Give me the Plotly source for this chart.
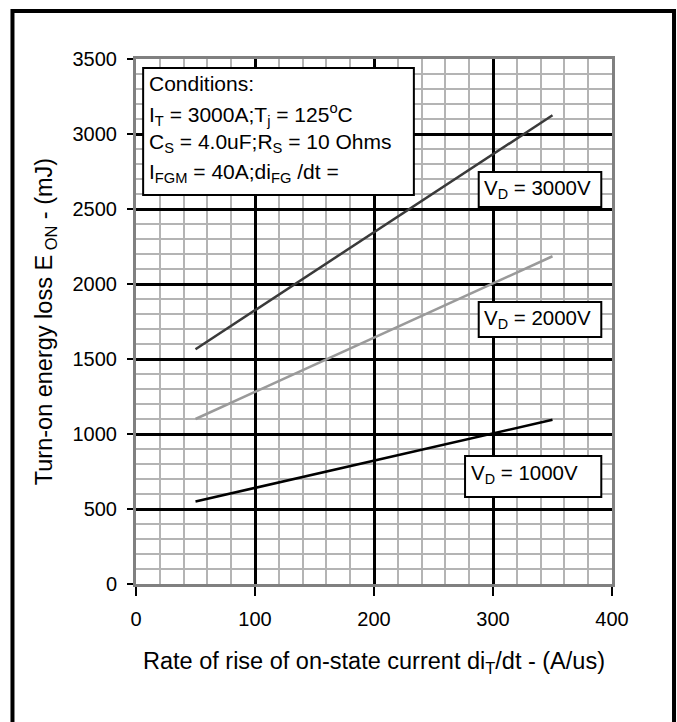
import plotly.graph_objects as go

# ---- data ----
rate = [50, 350]                      # di_T/dt (A/us)
eon_3000 = [1565, 3125]               # V_D = 3000V (mJ)
eon_2000 = [1100, 2185]               # V_D = 2000V (mJ)
eon_1000 = [550, 1095]                # V_D = 1000V (mJ)

series_names = ["V<sub>D</sub> = 3000V", "V<sub>D</sub> = 2000V", "V<sub>D</sub> = 1000V"]
series_colors = ["#3a3a3a", "#9a9a9a", "#000000"]

x_ticks = [0, 100, 200, 300, 400]
y_ticks = [0, 500, 1000, 1500, 2000, 2500, 3000, 3500]

conditions = [
    "Conditions:",
    "I<sub>T</sub> = 3000A;T<sub>j</sub> = 125<sup>o</sup>C",
    "C<sub>S</sub> = 4.0uF;R<sub>S</sub> = 10 Ohms",
    "I<sub>FGM</sub> = 40A;di<sub>FG</sub> /dt =",
]

FONT = "Liberation Sans, Arial, sans-serif"

fig = go.Figure()
for ys, name, col in zip([eon_3000, eon_2000, eon_1000], series_names, series_colors):
    fig.add_trace(go.Scatter(x=rate, y=ys, mode="lines", name=name,
                             line=dict(color=col, width=2.5), showlegend=False))

shapes = []
annotations = []

# outer frame
shapes.append(dict(type="rect", xref="paper", yref="paper",
                   x0=-0.2595, x1=1.1303, y0=-0.30, y1=1.0914,
                   line=dict(color="black", width=4), fillcolor="rgba(0,0,0,0)", layer="above"))

# conditions box
shapes.append(dict(type="rect", xref="x", yref="y", x0=6, x1=233.5, y0=2593, y1=3440,
                   line=dict(color="black", width=2), fillcolor="white", layer="above"))
cond_y = [3340, 3133, 2940, 2740]
for txt, yy in zip(conditions, cond_y):
    annotations.append(dict(x=9, y=yy, xref="x", yref="y", text=txt, showarrow=False,
                            xanchor="left", yanchor="middle",
                            font=dict(family=FONT, size=21, color="black")))

# V_D label boxes
boxes = [
    (288, 391, 2513, 2747, 290.5, 2633),
    (288, 391, 1647, 1880, 290.5, 1767),
    (276.5, 391, 580, 853, 279.5, 733),
]
for (x0, x1, y0, y1, tx, ty), name in zip(boxes, series_names):
    shapes.append(dict(type="rect", xref="x", yref="y", x0=x0, x1=x1, y0=y0, y1=y1,
                       line=dict(color="black", width=2), fillcolor="white", layer="above"))
    annotations.append(dict(x=tx, y=ty, xref="x", yref="y", text=name, showarrow=False,
                            xanchor="left", yanchor="middle",
                            font=dict(family=FONT, size=20.5, color="black")))

fig.update_layout(
    width=677, height=722,
    margin=dict(l=136, r=65, t=59, b=138, autoexpand=False),
    paper_bgcolor="white", plot_bgcolor="white",
    font=dict(family=FONT, size=20, color="black"),
    shapes=shapes, annotations=annotations,
)

fig.update_xaxes(
    range=[0, 400], tickvals=x_ticks, ticktext=[str(v) for v in x_ticks],
    showgrid=True, gridcolor="black", gridwidth=2.5,
    minor=dict(dtick=20, showgrid=True, gridcolor="#b4b4b4", gridwidth=1.5, ticks=""),
    showline=True, linecolor="#808080", linewidth=3, mirror=True,
    ticks="outside", ticklen=9, tickwidth=1.5, tickcolor="black",
    zeroline=False, automargin=False, ticklabelstandoff=6,
    tickfont=dict(size=20),
    title=dict(text="Rate of rise of on-state current di<sub>T</sub>/dt - (A/us)",
               font=dict(size=23.5), standoff=24),
)
fig.update_yaxes(
    range=[0, 3500], tickvals=y_ticks, ticktext=[str(v) for v in y_ticks],
    showgrid=True, gridcolor="black", gridwidth=2.5,
    minor=dict(dtick=100, showgrid=True, gridcolor="#b4b4b4", gridwidth=1.5, ticks=""),
    showline=True, linecolor="#808080", linewidth=3, mirror=True,
    ticks="outside", ticklen=6, tickwidth=1.5, tickcolor="black",
    zeroline=False, automargin=False, ticklabelstandoff=6,
    tickfont=dict(size=20),
    title=dict(text="Turn-on energy loss E<sub> ON</sub> - (mJ)",
               font=dict(size=23.5), standoff=14),
)

fig.write_html("out.html")
